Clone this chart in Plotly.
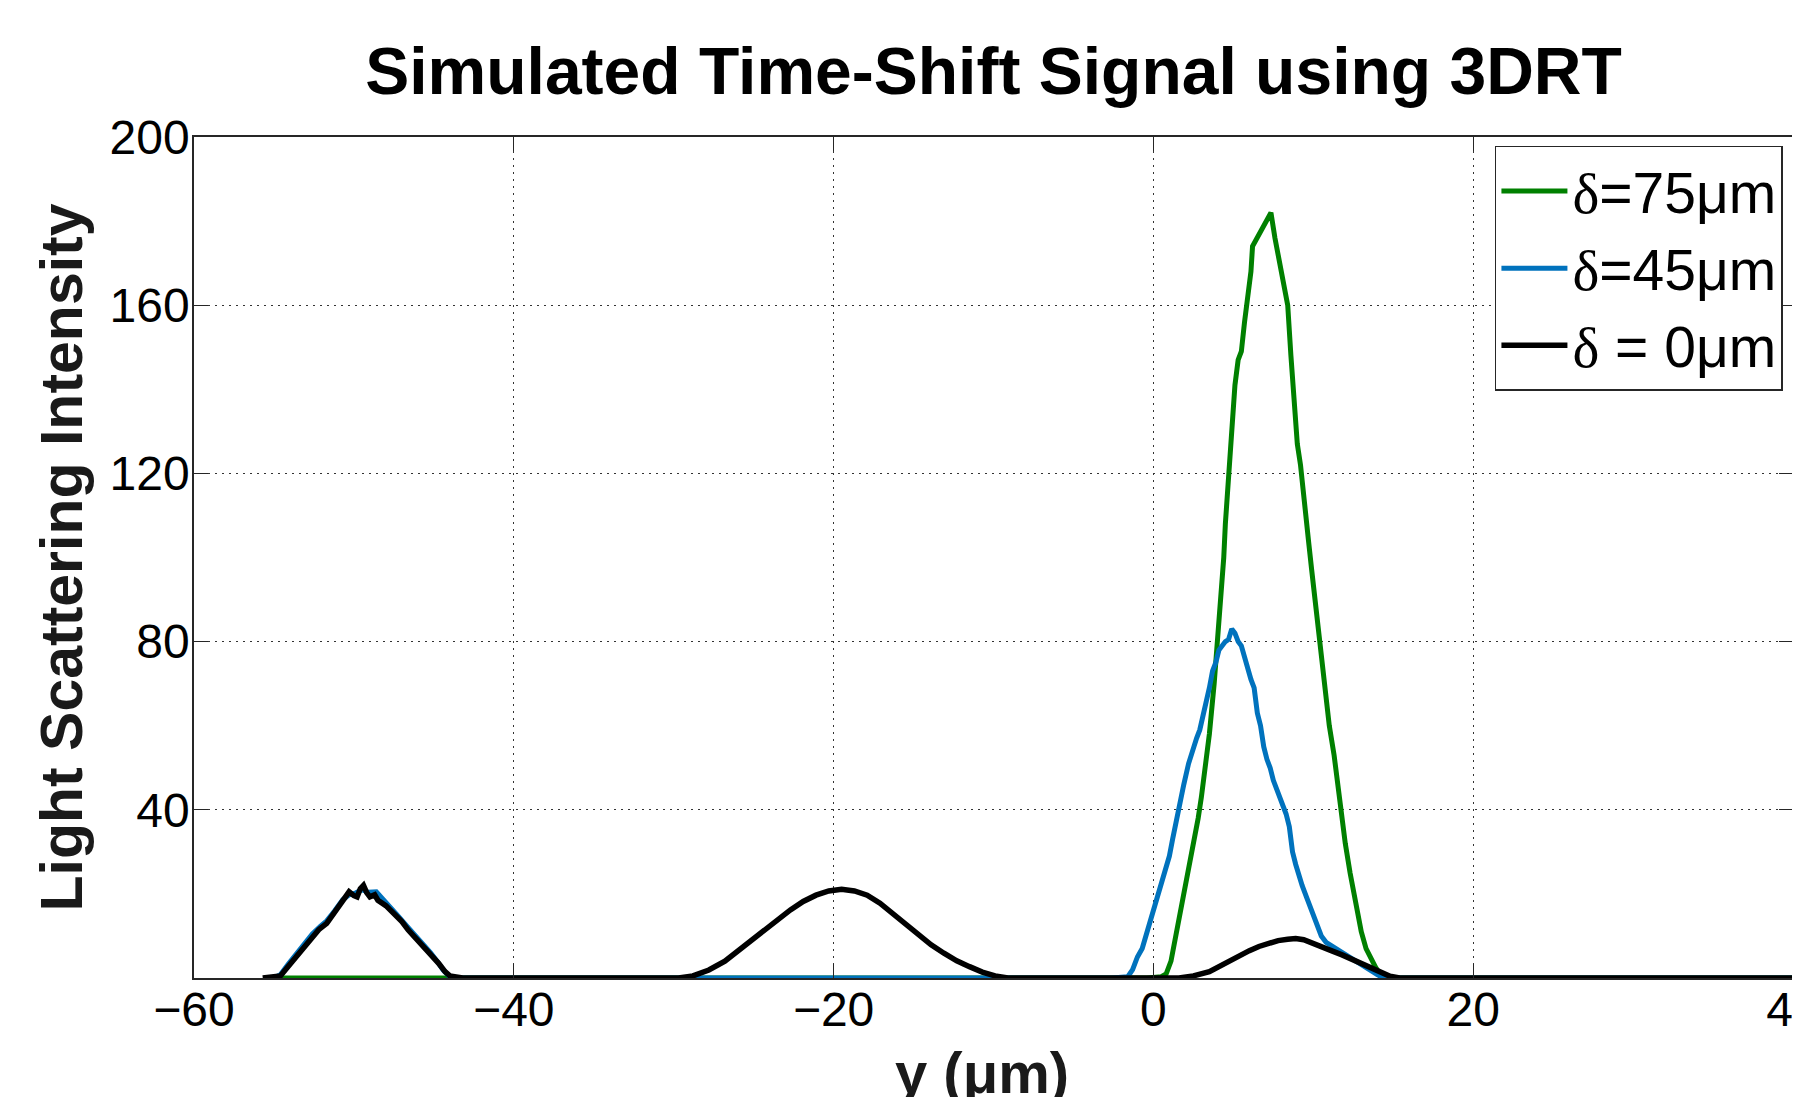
import plotly.graph_objects as go

# ---- data ----
green_x = [-54.5, -0.4, 0.5, 0.8, 1.1, 1.4, 1.7, 2.0, 2.2, 2.5, 2.8, 3.0, 3.3, 3.5, 3.8, 4.0, 4.2, 4.4,
           4.5, 4.7, 4.9, 5.1, 5.3, 5.5, 5.7, 5.9, 6.1, 6.2, 6.5, 6.8, 7.1, 7.35, 7.6, 7.9, 8.1, 8.4,
           8.6, 8.75, 9.0, 9.2, 9.45, 9.7, 9.9, 10.1, 10.4, 10.6, 10.8, 11.0, 11.3, 11.5, 11.8, 12.0,
           12.3, 12.5, 12.8, 13.0, 13.3, 13.6, 13.9, 14.2, 14.4, 40.0]
green_y = [0, 0, 0.3, 1, 4, 10, 15, 21, 25, 31, 38, 43, 52, 58, 70, 79, 91, 100,
           108, 120, 132, 141, 147, 149, 156, 162, 168, 174, 176, 178, 180, 182, 176, 170, 166, 160,
           148, 141, 127, 122, 114, 104, 97, 90, 81, 72, 65, 60, 53, 47, 37, 32,
           25, 21, 14, 11, 7, 4.5, 2.5, 0.8, 0, 0]

blue_x = [-55.0, -54.6, -54.1, -53.6, -53.1, -52.6, -52.1, -51.7, -51.2, -50.7, -50.3, -49.9, -49.5,
          -49.1, -48.6, -48.2, -47.7, -47.2, -46.7, -46.2, -45.7, -45.2, -44.8, -44.4, -44.0, -43.5,
          -2.6, -1.6, -1.3, -1.0, -0.7, -0.4, -0.1, 0.2, 0.5, 0.8, 1.0, 1.2, 1.4, 1.7, 1.9, 2.2, 2.5,
          2.7, 2.9, 3.1, 3.3, 3.5, 3.7, 3.9, 4.1, 4.3, 4.5, 4.7, 4.9, 5.1, 5.3, 5.5, 5.7, 5.9, 6.1,
          6.3, 6.5, 6.7, 6.9, 7.1, 7.3, 7.5, 7.8, 8.0, 8.3, 8.5, 8.7, 8.9, 9.1, 9.3, 9.6, 9.9, 10.2,
          10.5, 10.8, 11.2, 11.6, 12.0, 12.5, 13.0, 13.5, 14.0, 14.4, 40.0]
blue_y = [0, 0.8, 3.3, 5.6, 8.2, 10.5, 12.3, 13.6, 16.0, 18.6, 19.8, 20.2, 21.0,
          20.4, 20.5, 18.9, 16.8, 14.6, 12.4, 10.4, 8.3, 6.0, 4.0, 1.8, 0.3, 0,
          0, 0.3, 2, 5, 7, 11, 14, 18, 23, 27, 29, 33, 37, 42, 46, 51, 55,
          57, 59, 62, 65, 69, 73, 75, 78, 79, 80, 80.5, 83, 82, 80, 79, 76, 74, 71,
          69, 63, 60, 55, 52, 50, 47, 44, 42, 39, 36, 30, 27, 24, 22, 19, 16, 13,
          10, 8.5, 7.5, 6.5, 5.5, 4.5, 3.2, 2, 0.8, 0, 0]

black_x = [-55.7, -54.6, -54.1, -53.6, -53.1, -52.65, -52.2, -51.7, -51.4, -51.1, -50.7, -50.3, -50.0,
           -49.8, -49.6, -49.4, -49.2, -49.0, -48.7, -48.5, -48.0, -47.5, -47.0, -46.6, -46.1, -45.6,
           -45.1, -44.7, -44.3, -44.0, -43.2,
           -29.7, -28.8, -27.8, -26.8, -25.9, -25.0, -24.3, -23.5, -22.7, -21.9, -21.1, -20.3, -19.5,
           -18.7, -17.9, -17.1, -16.3, -15.5, -14.7, -13.9, -13.1, -12.3, -11.5, -10.7, -9.9, -9.1,
           1.6, 2.5, 3.5, 4.2, 5.0, 5.5, 6.0, 6.6, 7.2, 7.8, 8.4, 8.9, 9.4, 10.0, 10.6, 11.2, 11.8,
           12.4, 13.0, 13.6, 14.2, 14.8, 15.4, 40.0]
black_y = [0, 0.5, 2.8, 5.1, 7.5, 9.8, 11.5, 13, 14.5, 16.2, 18.2, 20.5, 19.6,
           19.3, 21.2, 22, 20.3, 19.3, 19.8, 18.5, 17.2, 15.4, 13.4, 11.4, 9.4, 7.4,
           5.3, 3.5, 1.5, 0.5, 0,
           0, 0.5, 1.9, 4, 6.7, 9.2, 11.4, 13.8, 16.2, 18.2, 19.7, 20.7, 21.1,
           20.7, 19.7, 17.8, 15.4, 12.8, 10.2, 7.9, 5.9, 4.1, 2.7, 1.4, 0.5, 0,
           0, 0.5, 1.5, 3, 4.5, 5.5, 6.5, 7.5, 8.3, 8.9, 9.2, 9.4, 9.1, 8.3, 7.3, 6.4, 5.5,
           4.5, 3.4, 2.3, 1.2, 0.4, 0, 0]

series_names = ['<span style="font-family:Liberation Serif">δ</span>=75μm',
                '<span style="font-family:Liberation Serif">δ</span>=45μm',
                '<span style="font-family:Liberation Serif">δ</span> = 0μm']
series_colors = ["#008000", "#0072BD", "#000000"]

x_ticks = [-60, -40, -20, 0, 20, 40]
y_ticks = [40, 80, 120, 160, 200]

title_text = "Simulated Time-Shift Signal using 3DRT"
x_title = "y (μm)"
y_title = "Light Scattering Intensity"

FONT = "Liberation Sans, Arial, sans-serif"

fig = go.Figure()
for xs, ys, name, col, w in [(green_x, green_y, series_names[0], series_colors[0], 5.0),
                             (blue_x, blue_y, series_names[1], series_colors[1], 5.0),
                             (black_x, black_y, series_names[2], series_colors[2], 5.5)]:
    fig.add_trace(go.Scatter(x=xs, y=ys, mode="lines", name=name,
                             line=dict(color=col, width=w)))

axis_common = dict(
    showline=True, linecolor="#262626", linewidth=1.5, mirror="ticks",
    ticks="inside", ticklen=14, tickwidth=1.2, tickcolor="#262626",
    showgrid=True, gridcolor="#333333", gridwidth=1, griddash="2px,5px",
    zeroline=False, tickfont=dict(family=FONT, size=48, color="black"),
)

fig.update_xaxes(range=[-60, 40], tickvals=x_ticks, ticklabeloverflow="allow",
                 ticklabelstandoff=-11, **axis_common)
fig.update_yaxes(range=[0, 200], tickvals=y_ticks, ticklabelstandoff=-7,
                 title=dict(text=f"<b>{y_title}</b>", font=dict(family=FONT, size=59, color="#1a1a1a"),
                            standoff=8),
                 **axis_common)

# x-axis title placed as an annotation so it can sit partly below the page edge, as in the reference
fig.add_annotation(text=f"<b>{x_title}</b>", xref="paper", yref="paper",
                   x=0.493, y=-0.112, xanchor="center", yanchor="middle",
                   showarrow=False, font=dict(family=FONT, size=58, color="#1a1a1a"))

W, H = 1792, 1089  # page body keeps an 8px default margin
fig.update_layout(
    width=W, height=H,
    margin=dict(l=186, r=7, t=129, b=119, autoexpand=False),
    paper_bgcolor="white", plot_bgcolor="white",
    title=dict(text=f"<b>{title_text}</b>", x=0.5, xref="paper", xanchor="center",
               y=1 - 63 / H, yref="container", yanchor="middle",
               font=dict(family=FONT, size=66, color="black")),
    legend=dict(x=0.9937, y=0.9893, xanchor="right", yanchor="top",
                bgcolor="white", bordercolor="#262626", borderwidth=1.5,
                font=dict(family=FONT, size=57, color="black"),
                itemwidth=66, tracegroupgap=0),
    showlegend=True,
)

fig.write_html("out.html")
